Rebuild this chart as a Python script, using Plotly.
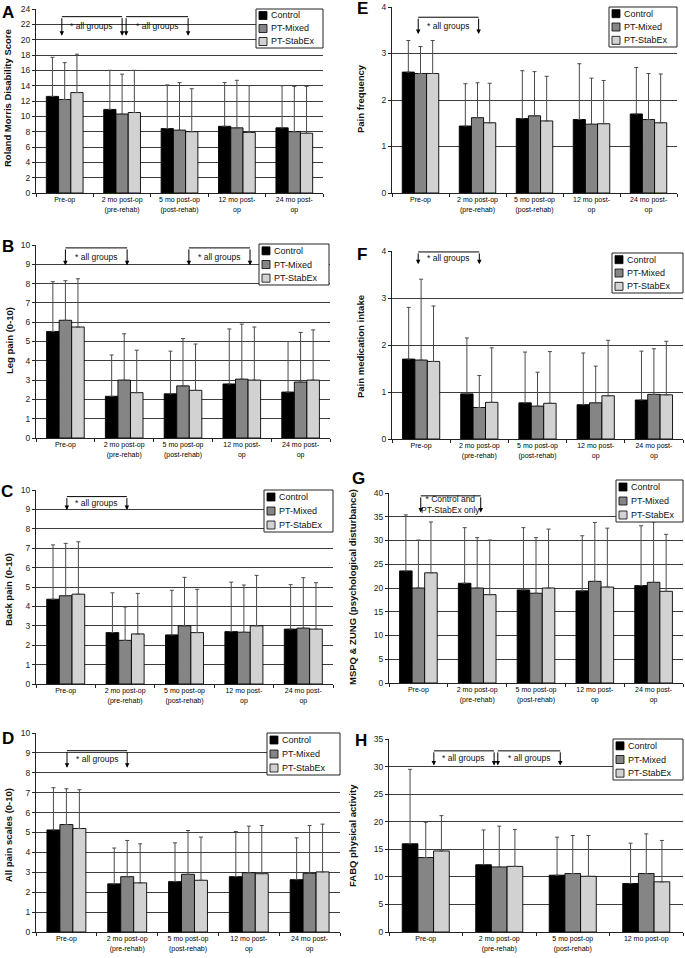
import plotly.graph_objects as go

# ---------------------------------------------------------------------------
# data (means and SD)
# ---------------------------------------------------------------------------
categories = ["Pre-op", "2 mo post-op<br>(pre-rehab)", "5 mo post-op<br>(post-rehab)",
              "12 mo post-<br>op", "24 mo post-<br>op"]
categories_fabq = ["Pre-op", "2 mo post-op<br>(pre-rehab)", "5 mo post-op<br>(post-rehab)",
                   "12 mo post-op"]
groups = ["Control", "PT-Mixed", "PT-StabEx"]

# A  Roland Morris
rmdq_control = [12.6, 10.9, 8.4, 8.7, 8.5]
rmdq_mixed = [12.2, 10.3, 8.2, 8.5, 8.0]
rmdq_stabex = [13.1, 10.5, 8.0, 7.9, 7.8]
rmdq_control_sd = [5.1, 5.1, 5.7, 5.7, 5.5]
rmdq_mixed_sd = [4.8, 5.2, 6.2, 6.2, 5.9]
rmdq_stabex_sd = [5.0, 5.5, 5.6, 6.1, 6.1]

# B  leg pain
leg_control = [5.52, 2.16, 2.29, 2.8, 2.38]
leg_mixed = [6.1, 3.0, 2.7, 3.05, 2.9]
leg_stabex = [5.75, 2.35, 2.47, 3.0, 3.0]
leg_control_sd = [2.58, 2.14, 2.21, 2.85, 2.62]
leg_mixed_sd = [2.05, 2.4, 2.45, 2.85, 2.57]
leg_stabex_sd = [2.5, 2.2, 2.4, 2.75, 2.6]

# C  back pain
back_control = [4.37, 2.65, 2.53, 2.7, 2.83]
back_mixed = [4.55, 2.25, 3.0, 2.67, 2.88]
back_stabex = [4.63, 2.58, 2.65, 3.0, 2.83]
back_control_sd = [2.8, 2.05, 2.3, 2.55, 2.29]
back_mixed_sd = [2.7, 1.72, 2.5, 2.43, 2.6]
back_stabex_sd = [2.7, 2.09, 2.23, 2.6, 2.39]

# D  all pain scales
allpain_control = [5.13, 2.42, 2.53, 2.78, 2.63]
allpain_mixed = [5.4, 2.78, 2.9, 2.98, 2.95]
allpain_stabex = [5.2, 2.47, 2.6, 2.93, 3.02]
allpain_control_sd = [2.12, 1.8, 1.95, 2.27, 2.1]
allpain_mixed_sd = [1.8, 1.82, 2.2, 2.34, 2.4]
allpain_stabex_sd = [1.95, 1.96, 2.17, 2.42, 2.4]

# E  pain frequency
freq_control = [2.6, 1.44, 1.6, 1.58, 1.7]
freq_mixed = [2.57, 1.62, 1.66, 1.48, 1.58]
freq_stabex = [2.57, 1.51, 1.55, 1.49, 1.51]
freq_control_sd = [0.68, 0.91, 1.03, 1.2, 1.0]
freq_mixed_sd = [0.58, 0.75, 0.95, 0.99, 0.99]
freq_stabex_sd = [0.71, 0.85, 0.96, 0.93, 1.05]

# F  pain medication intake
med_control = [1.7, 0.96, 0.77, 0.73, 0.83]
med_mixed = [1.68, 0.67, 0.7, 0.77, 0.95]
med_stabex = [1.65, 0.78, 0.76, 0.92, 0.94]
med_control_sd = [1.1, 1.19, 1.08, 1.1, 1.04]
med_mixed_sd = [1.72, 0.68, 0.72, 0.78, 0.97]
med_stabex_sd = [1.18, 1.16, 1.1, 1.18, 1.14]

# G  MSPQ & ZUNG
psych_control = [23.6, 21.0, 19.6, 19.4, 20.5]
psych_mixed = [20.0, 20.0, 18.9, 21.4, 21.2]
psych_stabex = [23.2, 18.6, 20.0, 20.2, 19.3]
psych_control_sd = [11.8, 11.7, 13.1, 11.6, 12.6]
psych_mixed_sd = [10.1, 10.6, 11.7, 12.4, 12.7]
psych_stabex_sd = [10.7, 11.5, 12.4, 12.4, 12.0]

# H  FABQ physical activity
fabq_control = [16.0, 12.2, 10.3, 8.8]
fabq_mixed = [13.5, 11.8, 10.6, 10.6]
fabq_stabex = [14.7, 11.9, 10.1, 9.1]
fabq_control_sd = [13.5, 6.3, 6.9, 7.3]
fabq_mixed_sd = [6.4, 7.4, 6.9, 7.2]
fabq_stabex_sd = [6.4, 6.7, 7.4, 7.5]

# ---------------------------------------------------------------------------
# layout helpers
# ---------------------------------------------------------------------------
W, H = 685, 958
FONT = "Arial, 'Liberation Sans', sans-serif"
BAR_COLORS = ["#000000", "#858585", "#d2d2d2"]


def fx(p):
    return p / W


def fy(p):
    return 1 - p / H


# box = plot area in px (x0, x1, y0, y1); leg = legend box (x, y, w, h) in px
panels = [
    dict(letter="A", cats=categories, title="Roland Morris Disability Score",
         means=[rmdq_control, rmdq_mixed, rmdq_stabex],
         sds=[rmdq_control_sd, rmdq_mixed_sd, rmdq_stabex_sd],
         ymax=24, dtick=2, box=(36, 323, 9, 193), leg=(256, 9, 67, 39),
         tpos=(8, 98), lpos=(8, 12),
         brackets=[(-0.05, 1.0, 23.0, 20.5, "* all groups"),
                   (1.07, 2.15, 23.0, 20.5, "* all groups")]),
    dict(letter="B", cats=categories, title="Leg pain (0-10)",
         means=[leg_control, leg_mixed, leg_stabex],
         sds=[leg_control_sd, leg_mixed_sd, leg_stabex_sd],
         ymax=10, dtick=1, box=(36, 330, 245, 438), leg=(259, 244, 70, 41),
         tpos=(9, 341), lpos=(8, 247),
         brackets=[(0.0, 1.05, 9.85, 8.95, "* all groups"),
                   (2.1, 3.14, 9.85, 8.95, "* all groups")]),
    dict(letter="C", cats=categories, title="Back pain (0-10)",
         means=[back_control, back_mixed, back_stabex],
         sds=[back_control_sd, back_mixed_sd, back_stabex_sd],
         ymax=10, dtick=1, box=(36, 333, 490, 684), leg=(264, 490, 69, 42),
         tpos=(8, 590), lpos=(7, 491),
         brackets=[(0.02, 1.03, 9.66, 8.97, "* all groups")]),
    dict(letter="D", cats=categories, title="All pain scales (0-10)",
         means=[allpain_control, allpain_mixed, allpain_stabex],
         sds=[allpain_control_sd, allpain_mixed_sd, allpain_stabex_sd],
         ymax=10, dtick=1, box=(36, 340, 733, 932), leg=(267, 733, 73, 42),
         tpos=(8, 835), lpos=(8, 738),
         brackets=[(0.01, 1.0, 9.11, 8.25, "* all groups")]),
    dict(letter="E", cats=categories, title="Pain frequency",
         means=[freq_control, freq_mixed, freq_stabex],
         sds=[freq_control_sd, freq_mixed_sd, freq_stabex_sd],
         ymax=4, dtick=1, box=(392, 677, 7, 193), leg=(609, 7, 68, 40),
         tpos=(360, 99), lpos=(362, 8),
         brackets=[(-0.04, 1.02, 3.78, 3.42, "* all groups")]),
    dict(letter="F", cats=categories, title="Pain medication intake",
         means=[med_control, med_mixed, med_stabex],
         sds=[med_control_sd, med_mixed_sd, med_stabex_sd],
         ymax=4, dtick=1, box=(392, 683, 251, 439), leg=(612, 253, 71, 40),
         tpos=(360, 347), lpos=(362, 255),
         brackets=[(-0.05, 1.0, 3.98, 3.72, "* all groups")]),
    dict(letter="G", cats=categories, title="MSPQ & ZUNG (psychological disturbance)",
         means=[psych_control, psych_mixed, psych_stabex],
         sds=[psych_control_sd, psych_mixed_sd, psych_stabex_sd],
         ymax=40, dtick=5, box=(389, 683, 493, 683), leg=(616, 480, 67, 42),
         tpos=(352, 587), lpos=(358, 478),
         brackets=[(0.04, 1.06, 39.4, 35.9, "* Control and<br>PT-StabEx only")]),
    dict(letter="H", cats=categories_fabq, title="FABQ physical activity",
         means=[fabq_control, fabq_mixed, fabq_stabex],
         sds=[fabq_control_sd, fabq_mixed_sd, fabq_stabex_sd],
         ymax=35, dtick=5, box=(389, 683, 739, 932), leg=(613, 739, 70, 41),
         tpos=(352, 836), lpos=(361, 740),
         brackets=[(0.11, 0.93, 32.85, 30.2, "* all groups"),
                   (0.98, 1.83, 32.85, 30.2, "* all groups")]),
]

fig = go.Figure()
layout = dict(
    width=W, height=H,
    margin=dict(l=0, r=0, t=0, b=0),
    paper_bgcolor="white", plot_bgcolor="white",
    barmode="group", bargap=0.36, bargroupgap=0,
    font=dict(family=FONT, color="#111111"),
    showlegend=False,
)
shapes = []
annotations = []

for i, p in enumerate(panels):
    n = i + 1
    sfx = "" if n == 1 else str(n)
    xa, ya = "x" + sfx, "y" + sfx
    x0, x1, y0, y1 = p["box"]

    for g, name in enumerate(groups):
        fig.add_trace(go.Bar(
            x=p["cats"], y=p["means"][g], name=name,
            xaxis=xa, yaxis=ya,
            marker=dict(color=BAR_COLORS[g], line=dict(color="#000000", width=0.9)),
            error_y=dict(type="data", symmetric=False, array=p["sds"][g],
                         arrayminus=[0] * len(p["sds"][g]),
                         color="#4a4a4a", thickness=1, width=2),
        ))

    layout["xaxis" + sfx] = dict(
        domain=[fx(x0), fx(x1)], anchor=ya, type="category",
        showline=True, linecolor="#222222", linewidth=1,
        ticks="outside", tickson="boundaries", ticklen=3, tickcolor="#222222",
        showgrid=False, tickfont=dict(size=7, color="#000000"), fixedrange=True,
        automargin=False,
    )
    layout["yaxis" + sfx] = dict(
        domain=[fy(y1), fy(y0)], anchor=xa, range=[0, p["ymax"]], dtick=p["dtick"],
        showline=True, linecolor="#222222", linewidth=1,
        ticks="outside", ticklen=3, tickcolor="#222222",
        showgrid=True, gridcolor="#3c3c3c", gridwidth=1, zeroline=False,
        tickfont=dict(size=8.5, color="#222222"), fixedrange=True,
        automargin=False,
    )

    # y title and panel letter
    annotations.append(dict(
        text="<b>%s</b>" % p["title"], xref="paper", yref="paper",
        x=fx(p["tpos"][0]), y=fy(p["tpos"][1]), textangle=-90,
        showarrow=False, font=dict(size=9.5, color="#111111"),
        xanchor="center", yanchor="middle",
    ))
    annotations.append(dict(
        text="<b>%s</b>" % p["letter"], xref="paper", yref="paper",
        x=fx(p["lpos"][0]), y=fy(p["lpos"][1]),
        showarrow=False, font=dict(size=17, color="#000000"),
        xanchor="center", yanchor="middle",
    ))

    # significance brackets
    for bx0, bx1, btop, btip, btxt in p["brackets"]:
        shapes.append(dict(type="line", xref=xa, yref=ya, x0=bx0, x1=bx1,
                           y0=btop, y1=btop, line=dict(color="#000000", width=1)))
        for bx in (bx0, bx1):
            annotations.append(dict(
                x=bx, y=btip, ax=bx, ay=btop, xref=xa, yref=ya, axref=xa, ayref=ya,
                text="", showarrow=True, arrowhead=2, arrowsize=0.9, arrowwidth=1,
                arrowcolor="#000000",
            ))
        annotations.append(dict(
            text=btxt, xref=xa, yref=ya, x=(bx0 + bx1) / 2, y=(btop + btip) / 2,
            showarrow=False, font=dict(size=8.5, color="#111111"),
            xanchor="center", yanchor="middle",
        ))

    # boxed legend in Excel style
    lx, ly, lw, lh = p["leg"]
    shapes.append(dict(type="rect", xref="paper", yref="paper",
                       x0=fx(lx), x1=fx(lx + lw), y0=fy(ly + lh), y1=fy(ly),
                       fillcolor="white", line=dict(color="#222222", width=1), layer="above"))
    step = lh / 3.0
    for g, name in enumerate(groups):
        cy = ly + step * (g + 0.5)
        shapes.append(dict(type="rect", xref="paper", yref="paper",
                           x0=fx(lx + 3), x1=fx(lx + 11), y0=fy(cy + 4), y1=fy(cy - 4),
                           fillcolor=BAR_COLORS[g], line=dict(color="#000000", width=0.8),
                           layer="above"))
        annotations.append(dict(
            text=name, xref="paper", yref="paper", x=fx(lx + 12.5), y=fy(cy),
            showarrow=False, xanchor="left", yanchor="middle",
            font=dict(size=9, color="#111111"),
        ))

layout["shapes"] = shapes
layout["annotations"] = annotations
fig.update_layout(**layout)

# the page's default 8px body margin would shift the whole figure
fig.write_html("out.html", config={"displayModeBar": False},
               post_script="document.body.style.margin='0px';")
